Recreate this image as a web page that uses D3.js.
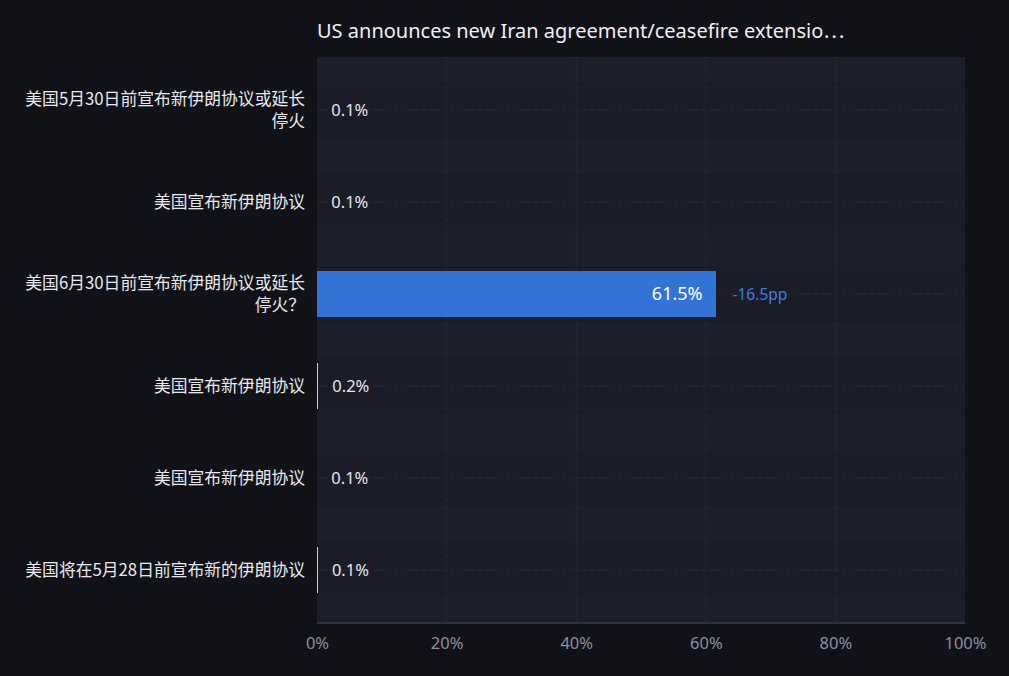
<!DOCTYPE html>
<html><head><meta charset="utf-8">
<script src="https://cdn.jsdelivr.net/npm/d3@7"></script>
<style>
html,body{margin:0;padding:0;background:#111217;}
svg{display:block;}
</style></head>
<body>
<svg id="chart" width="1009" height="676"></svg>
<script>
const titleText = "US announces new Iran agreement/ceasefire extensio";
const categories = [
  "美国5月30日前宣布新伊朗协议或延长停火",
  "美国宣布新伊朗协议",
  "美国6月30日前宣布新伊朗协议或延长停火？",
  "美国宣布新伊朗协议",
  "美国宣布新伊朗协议",
  "美国将在5月28日前宣布新的伊朗协议"
];
const values = [0.05, 0.05, 61.5, 0.2, 0.05, 0.14];
const valueLabels = ["0.1%", "0.1%", "61.5%", "0.2%", "0.1%", "0.1%"];
const highlight = [false, false, true, false, false, false];
const changes = [null, null, "-16.5pp", null, null, null];
const xTicks = [0, 20, 40, 60, 80, 100];

(function () {
const svg = d3.select("#chart");
const W = 1009, H = 676;
const pL = 317, pR = 965, pT = 57, pB = 623;

svg.append("rect").attr("width", W).attr("height", H).attr("fill", "#111217");

const x = d3.scaleLinear().domain([0, 100]).range([pL, pR]);
const y = d3.scaleBand().domain(d3.range(categories.length)).range([64, 616]).paddingInner(0).paddingOuter(0);

svg.append("rect").attr("x", pL).attr("y", pT).attr("width", pR - pL).attr("height", pB - pT).attr("fill", "#1c1e2a");

svg.append("g").selectAll("rect").data(categories).join("rect")
  .attr("x", pL).attr("width", pR - pL)
  .attr("y", (d, i) => y(i) + y.bandwidth() * 0.2)
  .attr("height", y.bandwidth() * 0.6)
  .attr("fill", "#1a1c27");

svg.append("g").selectAll("line").data(xTicks.filter(t => t > 0 && t < 100)).join("line")
  .attr("x1", d => x(d)).attr("x2", d => x(d)).attr("y1", pT).attr("y2", pB)
  .attr("stroke", "#262938").attr("stroke-width", 1).attr("stroke-dasharray", "4,3");

svg.append("g").selectAll("line").data(categories).join("line")
  .attr("x1", pL).attr("x2", pR)
  .attr("y1", (d, i) => y(i) + y.bandwidth() / 2).attr("y2", (d, i) => y(i) + y.bandwidth() / 2)
  .attr("stroke", "#262938").attr("stroke-width", 1).attr("stroke-dasharray", "4,3");

const barH = y.bandwidth() * 0.5;
svg.append("g").attr("shape-rendering", "crispEdges").selectAll("rect").data(values).join("rect")
  .attr("x", x(0))
  .attr("y", (d, i) => y(i) + (y.bandwidth() - barH) / 2)
  .attr("width", d => x(d) - x(0))
  .attr("height", barH)
  .attr("fill", (d, i) => highlight[i] ? "#3373d6" : "#c9ccd6");

const vl = svg.append("g").attr("font-family", "'Noto Sans', sans-serif");
values.forEach((v, i) => {
  const cy = y(i) + y.bandwidth() / 2;
  if (highlight[i]) {
    vl.append("text").attr("x", x(v) - 13).attr("y", cy).attr("dy", "0.36em")
      .attr("text-anchor", "end").attr("fill", "#ffffff").attr("font-size", 18)
      .text(valueLabels[i]);
    if (changes[i]) {
      vl.append("text").attr("x", x(v) + 17).attr("y", cy).attr("dy", "0.36em")
        .attr("fill", "#3a7fe0").attr("font-size", 15.5).text(changes[i]);
    }
  } else {
    vl.append("text").attr("x", x(v) + 14).attr("y", cy).attr("dy", "0.36em")
      .attr("fill", "#e6e7ec").attr("font-size", 16.5).text(valueLabels[i]);
  }
});

const cl = svg.append("g").attr("font-family", "'Noto Sans CJK SC', 'Noto Sans', sans-serif")
  .attr("font-size", 16.8).attr("fill", "#e8e9ee").attr("text-anchor", "end");
const maxW = 290;
categories.forEach((c, i) => {
  const cy = y(i) + y.bandwidth() / 2;
  const chars = Array.from(c);
  const lines = [];
  let cur = "";
  const probe = cl.append("text").attr("x", 0).attr("y", -100);
  chars.forEach(ch => {
    probe.text(cur + ch);
    if (probe.node().getComputedTextLength() > maxW && cur.length) {
      lines.push(cur); cur = ch;
    } else cur += ch;
  });
  lines.push(cur);
  probe.remove();
  const lh = 22;
  lines.forEach((ln, k) => {
    cl.append("text").attr("x", 305)
      .attr("y", cy + (k - (lines.length - 1) / 2) * lh)
      .attr("dy", "0.35em").text(ln);
  });
});

svg.append("line").attr("x1", pL).attr("x2", pR).attr("y1", pB).attr("y2", pB)
  .attr("stroke", "#2f3142").attr("stroke-width", 2);

const ax = svg.append("g").attr("transform", `translate(0,${pB})`)
  .call(d3.axisBottom(x).tickValues(xTicks).tickFormat(d => d + "%").tickSize(0).tickPadding(14));
ax.select(".domain").remove();
ax.selectAll("text").attr("fill", "#8b8fa3").attr("font-size", 16.5).attr("font-family", "'Noto Sans', sans-serif");

const tt = svg.append("text").attr("x", 317).attr("y", 38)
  .attr("font-family", "'Noto Sans', sans-serif").attr("font-size", 20).attr("fill", "#eeeff3");
tt.append("tspan").text(titleText);
tt.append("tspan").attr("font-family", "'Noto Sans CJK SC'").text("…");
})();
</script>
</body></html>
